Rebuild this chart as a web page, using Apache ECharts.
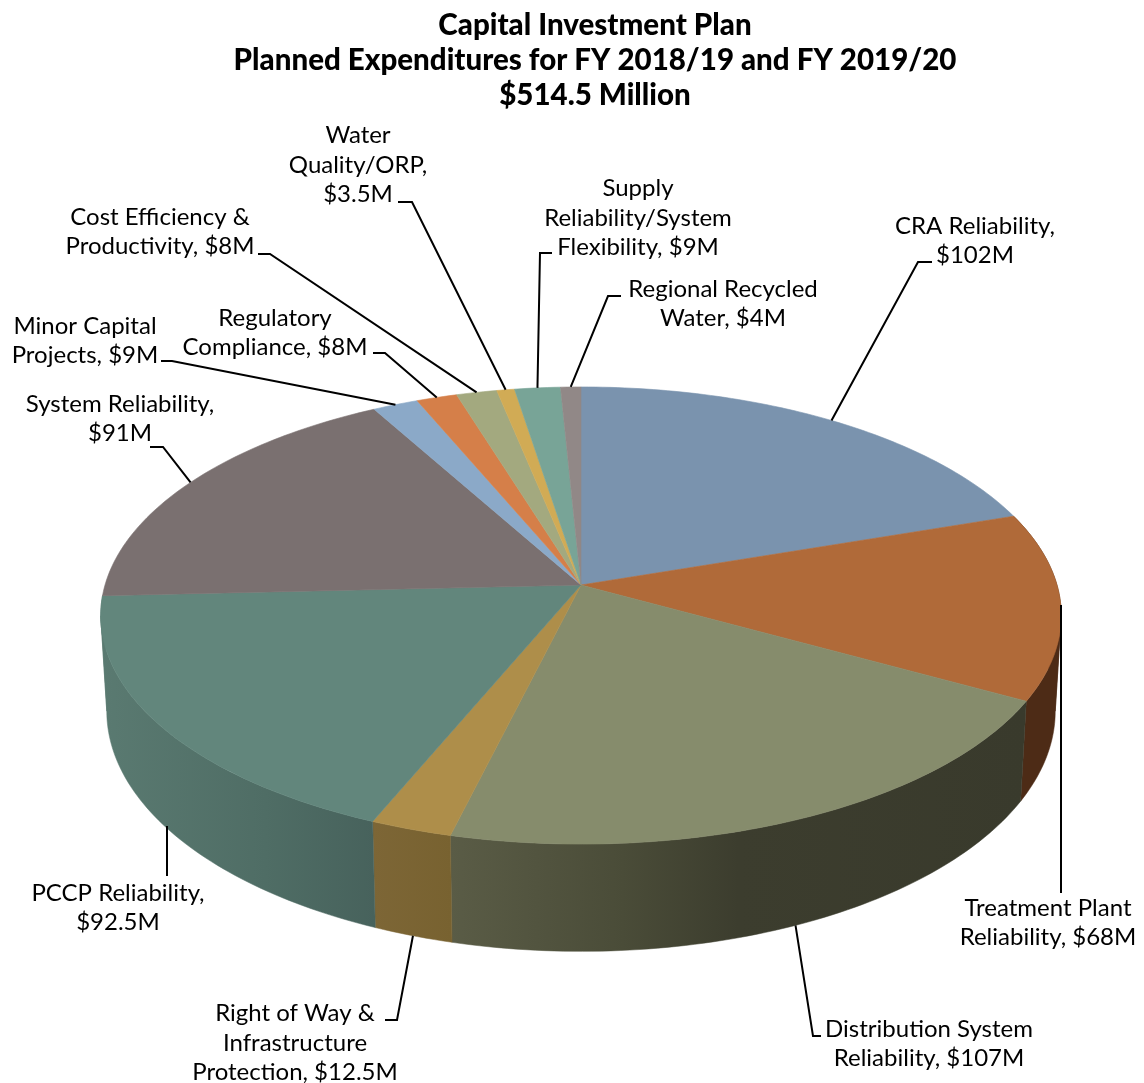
<!DOCTYPE html>
<html><head><meta charset="utf-8">
<style>html,body{margin:0;padding:0;background:#fff}#c{width:1144px;height:1083px}</style>
<script src="https://cdn.jsdelivr.net/npm/echarts@6/dist/echarts.min.js"></script></head>
<body><div id="c"></div>
<script>
// ---- data (millions of dollars), clockwise from 12 o'clock
const categories = ['CRA Reliability','Treatment Plant Reliability','Distribution System Reliability','Right of Way & Infrastructure Protection','PCCP Reliability','System Reliability','Minor Capital Projects','Regulatory Compliance','Cost Efficiency & Productivity','Water Quality/ORP','Supply Reliability/System Flexibility','Regional Recycled Water'];
const values = [102,68,107,12.5,92.5,91,9,8,8,3.5,9,4];
const labelTexts = ['CRA Reliability,\n$102M','Treatment Plant\nReliability, $68M','Distribution System\nReliability, $107M','Right of Way &\nInfrastructure\nProtection, $12.5M','PCCP Reliability,\n$92.5M','System Reliability,\n$91M','Minor Capital\nProjects, $9M','Regulatory\nCompliance, $8M','Cost Efficiency &\nProductivity, $8M','Water\nQuality/ORP,\n$3.5M','Supply\nReliability/System\nFlexibility, $9M','Regional Recycled\nWater, $4M'];
const titleText = 'Capital Investment Plan\nPlanned Expenditures for FY 2018/19 and FY 2019/20\n$514.5 Million';

// ---- styling and layout
const topColors = ['#7a93ae','#b06a39','#868c6c','#ae8e4a','#62867c','#7a7070','#8ba9c8','#d57f49','#a3a97f','#d1ab55','#78a497','#918887'];
const wallStops = [
  null,
  [[0,'#4d2b16'],[1,'#4d2b16']],
  [[0,'#5a5c46'],[0.3,'#4a4c38'],[0.5,'#3c3d2e'],[1,'#393a2c']],
  [[0,'#7d6636'],[1,'#786230']],
  [[0,'#5a7a71'],[0.6,'#4f6d65'],[1,'#47625c']],
  null,null,null,null,null,null,null
];
const labelCenters = [[975,241],[1048,923],[929,1044],[295,1043],[118,908],[120,419],[85,341],[275,333],[160,232],[358,165],[638,218],[723,304]];
const leaderPaths = [
  [[932,262],[918,262]],
  [[1061,893],[1061,605]],
  [[821,1036],[813,1036]],
  [[385,1020],[397,1020]],
  [[167,876],[167,826]],
  [[150,447],[163,447]],
  [[161,361],[172,361]],
  [[373,353],[385,353]],
  [[258,254],[270,254]],
  [[398,202],[412,202]],
  [[552,253],[540,253]],
  [[621,296],[608,296]]
];
const leaderRim = ['top',null,'bottom','bottom',null,'top','top','top','top','top','top','top'];
// perspective projection of the disc: top face and bottom face
const topFace = {cx:581, cy:585, a:476, b:224.5, k:0.1335};
const botFace = {cx:581, cy:679, a:470, b:236, k:0.1335};
const FONT = 'Lato';
const LABEL_SIZE = 24;
const silhouette = [97.7, 262.3];

const total = values.reduce((s,v)=>s+v,0);
function project(f, deg){
  const t = deg*Math.PI/180, d = 1+f.k*Math.cos(t);
  return [f.cx+f.a*Math.sin(t)/d, f.cy-f.b*Math.cos(t)/d];
}
function rim(f, a0, a1){
  const n = Math.max(2, Math.ceil(Math.abs(a1-a0))), pts = [];
  for(let i=0;i<=n;i++) pts.push(project(f, a0+(a1-a0)*i/n));
  return pts;
}
let run = 0;
const spans = values.map(v=>{ const s=[run/total*360,(run+v)/total*360]; run+=v; return s; });

function renderSlice(params, api){
  const i = api.value(2), a0 = api.value(0), a1 = api.value(1);
  const children = [];
  if (wallStops[i]) {
    const xs = rim(topFace,a0,a1).concat(rim(botFace,a0,a1)).map(p=>p[0]);
    const fill = new echarts.graphic.LinearGradient(Math.min(...xs),0,Math.max(...xs),0,
      wallStops[i].map(s=>({offset:s[0],color:s[1]})), true);
    const cuts = [a0].concat(silhouette.filter(s=>s>a0&&s<a1), [a1]);
    for (let c=0;c<cuts.length-1;c++){
      const pts = rim(topFace,cuts[c],cuts[c+1]).concat(rim(botFace,cuts[c+1],cuts[c]));
      children.push({type:'polygon', z2:2+i, shape:{points:pts}, style:{fill, stroke:fill, lineWidth:0.5}});
    }
  }
  const topPts = [[topFace.cx,topFace.cy]].concat(rim(topFace,a0,a1));
  children.push({type:'polygon', z2:20, shape:{points:topPts}, style:{fill:topColors[i], stroke:topColors[i], lineWidth:0.6}});
  const mid = (a0+a1)/2;
  let path = leaderPaths[i].slice();
  if (leaderRim[i]) path = path.concat([project(leaderRim[i]==='top'?topFace:botFace, mid)]);
  children.push({type:'polyline', z2:30, shape:{points:path}, style:{stroke:'#000', lineWidth:2, fill:null}});
  children.push({type:'text', z2:40, x:labelCenters[i][0], y:labelCenters[i][1],
    style:{text:labelTexts[i], fill:'#000', font:LABEL_SIZE+'px '+FONT, lineHeight:29.3, align:'center', verticalAlign:'middle'}});
  return {type:'group', children};
}

const chart = echarts.init(document.getElementById('c'), null, {renderer:'canvas'});
chart.setOption({
  animation:false,
  backgroundColor:'#fff',
  title:{text:titleText, left:590, top:2.5, textAlign:'center',
    textStyle:{fontFamily:FONT, fontWeight:900, fontSize:29.5, color:'#000', lineHeight:35}},
  series:[{type:'custom', name:'Planned Expenditures', coordinateSystem:'none', renderItem:renderSlice,
    silent:true, clip:false,
    data:spans.map((s,i)=>({name:categories[i], value:[s[0],s[1],i,values[i]]}))}]
});
</script></body></html>
